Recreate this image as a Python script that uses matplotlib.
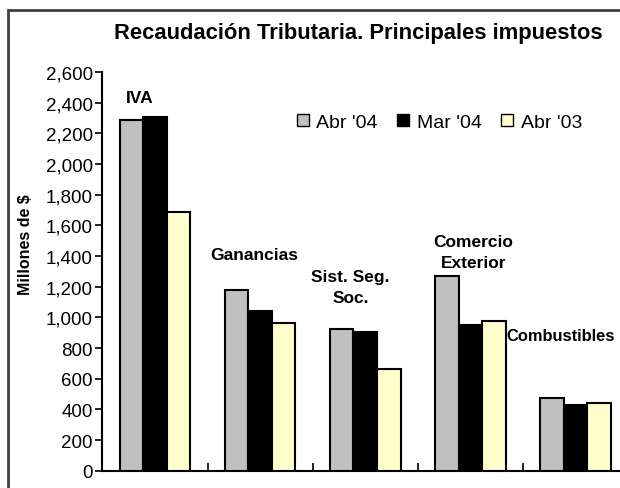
import numpy as np
import matplotlib.pyplot as plt
from matplotlib.patches import Rectangle
from matplotlib.ticker import FuncFormatter

plt.rcParams['font.family'] = ['Liberation Sans', 'DejaVu Sans']

# data (millones de $)
impuestos = ['IVA', 'Ganancias', 'Sist. Seg.\nSoc.', 'Comercio\nExterior', 'Combustibles']
abr04 = [2288, 1177, 923, 1268, 474]
mar04 = [2306, 1042, 903, 949, 428]
abr03 = [1690, 962, 665, 975, 439]
series = ["Abr '04", "Mar '04", "Abr '03"]
colores = ['#C0C0C0', '#000000', '#FFFFCC']

# where the category labels sit (data coords), alignment, size
label_pos = [(-0.15, 2433, 'center', 12.5), (0.94, 1411, 'center', 12.5),
             (1.86, 1197, 'center', 12.5), (3.03, 1425, 'center', 12.5),
             (3.345, 884, 'left', 11.9)]

fig = plt.figure(figsize=(6.2, 4.89), dpi=100)
ax = fig.add_axes([0.1653, 0.0354, 0.8476, 0.8153])

x = np.arange(len(impuestos))
w = 0.224
for i, (vals, lab, col) in enumerate(zip([abr04, mar04, abr03], series, colores)):
    ax.bar(x + (i - 1) * w, vals, w, color=col, edgecolor='black', linewidth=1.5,
           label=lab, zorder=3)

for name, (lx, ly, ha, fs) in zip(impuestos, label_pos):
    ax.text(lx, ly, name, ha=ha, va='center', fontsize=fs, fontweight='bold',
            linespacing=1.45)

ax.set_xlim(-0.5, len(impuestos) - 0.5)
ax.set_ylim(0, 2600)
ax.set_yticks(np.arange(0, 2601, 200))
ax.yaxis.set_major_formatter(FuncFormatter(lambda v, p: f'{int(v):,}'))
ax.set_xticks(np.arange(0.5, len(impuestos) - 0.5, 1))
ax.set_xticklabels([])
ax.tick_params(axis='x', direction='in', length=6, width=1.2)
ax.tick_params(axis='y', direction='out', length=5, width=1.2, labelsize=13.5, pad=2)
for s in ['top', 'right']:
    ax.spines[s].set_visible(False)
for s in ['left', 'bottom']:
    ax.spines[s].set_linewidth(1.5)

fig.text(26 / 620, 1 - 245 / 489, 'Millones de $', rotation=90, ha='center', va='center',
         fontsize=11.5, fontweight='bold')
fig.text(358 / 620, 1 - 34 / 489, 'Recaudación Tributaria. Principales impuestos',
         ha='center', va='center', fontsize=15.8, fontweight='bold')

leg = ax.legend(loc='center left', bbox_to_anchor=(297 / 620, 1 - 123.5 / 489),
                bbox_transform=fig.transFigure, ncol=3, frameon=False, fontsize=14,
                handlelength=0.6, handleheight=0.6, handletextpad=0.4,
                columnspacing=1.0, borderpad=0, borderaxespad=0)
for h in leg.legend_handles:
    h.set_linewidth(1)

fig.patches.append(Rectangle((8 / 620, -0.1), 1.2, 1.1 - 11 / 489, transform=fig.transFigure,
                             fill=False, edgecolor='#404040', linewidth=2))

fig.savefig('out.png', dpi=100)
